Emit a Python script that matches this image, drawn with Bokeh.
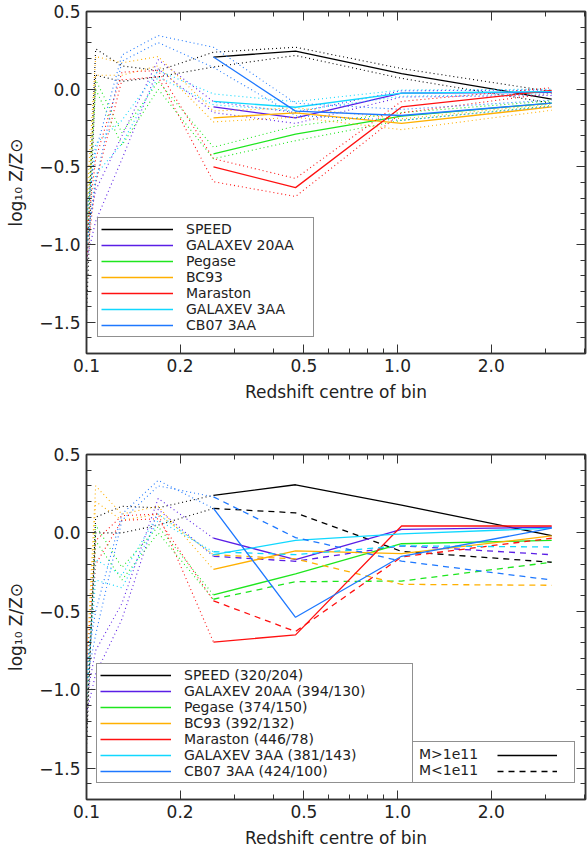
from bokeh.plotting import figure
from bokeh.models import (FixedTicker, CustomJSTickFormatter, LogAxis, LinearAxis,
                          Legend, LegendItem, Range1d)
from bokeh.layouts import column
from bokeh.embed import file_html
from bokeh.resources import INLINE

# ---------------- data ----------------
models = ["SPEED", "GALAXEV 20AA", "Pegase", "BC93", "Maraston", "GALAXEV 3AA", "CB07 3AA"]
counts = ["(320/204)", "(394/130)", "(374/150)", "(392/132)", "(446/78)", "(381/143)", "(424/100)"]
colors = ["#000000", "#5a1ee6", "#1ee61e", "#ffb000", "#ff1010", "#10d8ff", "#1e78ff"]

z_bins = [0.1, 0.107, 0.13, 0.17, 0.256, 0.47, 1.03, 3.13]

# top panel: central value (bins from z=0.256 on) and upper / lower envelopes
top_mid = [
    [0.207, 0.245, 0.101, -0.063],
    [-0.114, -0.184, -0.025, -0.020],
    [-0.416, -0.289, -0.173, -0.089],
    [-0.184, -0.152, -0.220, -0.114],
    [-0.500, -0.633, -0.114, -0.008],
    [-0.078, -0.116, -0.025, -0.015],
    [0.207, -0.141, -0.169, -0.089],
]
top_upper = [
    [-1.20, 0.26, 0.15, 0.12, 0.238, 0.270, 0.133, -0.015],
    [-0.95, -0.65, -0.30, 0.19, -0.080, -0.150, -0.010, -0.005],
    [-0.90, 0.06, -0.28, 0.05, -0.373, -0.236, -0.150, -0.075],
    [-0.75, 0.21, 0.17, 0.21, -0.140, -0.120, -0.190, -0.095],
    [-0.95, -0.45, 0.11, 0.12, -0.447, -0.574, -0.078, 0.010],
    [-0.85, -0.35, -0.20, 0.12, -0.030, -0.080, -0.005, 0.000],
    [-0.80, -0.40, 0.22, 0.345, 0.270, -0.090, -0.130, -0.070],
]
top_lower = [
    [-1.45, 0.09, 0.05, 0.08, 0.143, 0.217, 0.070, -0.090],
    [-1.10, -0.85, -0.45, 0.13, -0.150, -0.220, -0.050, -0.040],
    [-1.05, 0.00, -0.36, 0.00, -0.447, -0.331, -0.200, -0.105],
    [-0.95, 0.09, 0.09, 0.15, -0.210, -0.180, -0.260, -0.135],
    [-1.10, -0.60, 0.06, 0.08, -0.595, -0.690, -0.152, -0.025],
    [-1.05, -0.55, -0.35, 0.08, -0.100, -0.140, -0.045, -0.030],
    [-1.00, -0.60, 0.18, 0.30, 0.140, -0.170, -0.200, -0.110],
]

# bottom panel: M>1e11 (solid) and M<1e11 (dashed); dotted below z=0.256
bot_hi = [
    [-1.37, 0.10, 0.17, 0.16, 0.240, 0.307, 0.177, -0.017],
    [-1.05, -0.75, -0.45, 0.22, -0.034, -0.170, 0.023, 0.036],
    [-0.95, 0.05, -0.22, 0.04, -0.395, -0.261, -0.069, -0.048],
    [-0.85, 0.30, 0.12, 0.17, -0.233, -0.114, -0.132, -0.019],
    [-0.90, -0.05, 0.11, 0.12, -0.696, -0.650, 0.044, 0.044],
    [-0.95, -0.17, -0.27, 0.12, -0.139, -0.048, -0.006, 0.030],
    [-0.85, -0.50, 0.12, 0.335, 0.156, -0.538, -0.149, 0.030],
]
bot_lo = [
    [-1.25, 0.00, 0.00, 0.05, 0.156, 0.128, -0.118, -0.187],
    [-1.15, -0.90, -0.55, 0.15, -0.149, -0.181, -0.082, -0.139],
    [-1.10, -0.05, -0.30, 0.00, -0.423, -0.311, -0.307, -0.187],
    [-0.95, 0.20, 0.08, 0.12, -0.139, -0.166, -0.328, -0.334],
    [-1.00, -0.20, 0.08, 0.09, -0.433, -0.629, -0.153, -0.034],
    [-1.05, -0.30, -0.35, 0.08, -0.120, -0.139, -0.082, -0.090],
    [-0.95, -0.65, 0.08, 0.30, 0.230, -0.030, -0.180, -0.300],
]

x_ticks = [0.1, 0.2, 0.5, 1.0, 2.0]
x_minor = [0.3, 0.4, 0.6, 0.7, 0.8, 0.9, 3.0, 4.0]
y_ticks = [-1.5, -1.0, -0.5, 0.0, 0.5]
y_minor = [-1.7, -1.6, -1.4, -1.3, -1.2, -1.1, -0.9, -0.8, -0.7, -0.6,
           -0.4, -0.3, -0.2, -0.1, 0.1, 0.2, 0.3, 0.4]

FONT = "DejaVu Sans"
AX = "#333333"
TXT = "#222222"
DOT = "1 3"
DASH = "6 5"


def style_axis(ax, labels=True):
    ax.axis_line_color = AX
    ax.axis_line_width = 1.5
    ax.major_tick_line_color = AX
    ax.minor_tick_line_color = AX
    ax.major_tick_in = 9
    ax.major_tick_out = 0
    ax.minor_tick_in = 5
    ax.minor_tick_out = 0
    ax.major_label_text_font = FONT
    ax.major_label_text_font_size = "17px"
    ax.major_label_text_color = TXT
    ax.axis_label_text_font = FONT
    ax.axis_label_text_font_size = "17px"
    ax.axis_label_text_font_style = "normal"
    ax.axis_label_text_color = TXT
    if not labels:
        ax.formatter = CustomJSTickFormatter(code="return '';")
        ax.major_label_text_font_size = "0px"
        ax.major_label_standoff = 0


def make_fig(height, top_border, bottom_border):
    p = figure(width=587, height=height, x_axis_type="log",
               x_range=Range1d(0.1, 4.02), y_range=Range1d(-1.7, 0.5),
               output_backend="svg", toolbar_location=None,
               min_border_left=86, min_border_right=2,
               min_border_top=top_border, min_border_bottom=bottom_border)
    p.xgrid.visible = False
    p.ygrid.visible = False
    p.outline_line_color = AX
    p.outline_line_width = 1.5
    p.background_fill_color = "white"
    p.border_fill_color = "white"

    xa = p.xaxis[0]
    xa.ticker = FixedTicker(ticks=x_ticks, minor_ticks=x_minor)
    xa.formatter = CustomJSTickFormatter(code="return tick.toFixed(1);")
    xa.axis_label = "Redshift centre of bin"
    style_axis(xa)
    xa.major_label_standoff = 5
    xa.axis_label_standoff = 7

    ya = p.yaxis[0]
    ya.ticker = FixedTicker(ticks=y_ticks, minor_ticks=y_minor)
    ya.formatter = CustomJSTickFormatter(
        code="return (tick < -1e-9 ? '\u2212' : '') + Math.abs(tick).toFixed(1);")
    ya.axis_label = "log\u2081\u2080 Z/Z\u2299"
    style_axis(ya)
    ya.major_label_standoff = 6
    ya.axis_label_standoff = 10

    top = LogAxis(ticker=FixedTicker(ticks=x_ticks, minor_ticks=x_minor))
    style_axis(top, labels=False)
    p.add_layout(top, "above")
    right = LinearAxis(ticker=FixedTicker(ticks=y_ticks, minor_ticks=y_minor))
    style_axis(right, labels=False)
    p.add_layout(right, "right")
    return p


def style_legend(lg, padding, label_width):
    lg.label_text_font = FONT
    lg.label_text_font_size = "14px"
    lg.label_text_color = TXT
    lg.border_line_color = "#222222"
    lg.border_line_width = 1.2
    lg.background_fill_color = "white"
    lg.background_fill_alpha = 1.0
    lg.margin = 0
    lg.spacing = 0
    lg.padding = padding
    lg.label_height = 12
    lg.glyph_height = 12
    lg.label_width = label_width


# ---------------- top panel ----------------
p1 = make_fig(440, 11, 87)
items1 = []
for i, m in enumerate(models):
    c = colors[i]
    p1.line(z_bins, top_upper[i], line_color=c, line_width=1.1, line_dash=DOT)
    p1.line(z_bins, top_lower[i], line_color=c, line_width=1.1, line_dash=DOT)
    r = p1.line(z_bins[4:], top_mid[i], line_color=c, line_width=1.3)
    items1.append(LegendItem(label=m, renderers=[r]))

lg1 = Legend(items=items1, location=(11, 16), glyph_width=72, label_standoff=13)
style_legend(lg1, 3, 124)
p1.add_layout(lg1)

# ---------------- bottom panel ----------------
p2 = make_fig(410, 14, 49)
items2 = []
mass_hi = None
mass_lo = None
for i, m in enumerate(models):
    c = colors[i]
    p2.line(z_bins[:5], bot_hi[i][:5], line_color=c, line_width=1.1, line_dash=DOT)
    p2.line(z_bins[:5], bot_lo[i][:5], line_color=c, line_width=1.1, line_dash=DOT)
    rh = p2.line(z_bins[4:], bot_hi[i][4:], line_color=c, line_width=1.3)
    rl = p2.line(z_bins[4:], bot_lo[i][4:], line_color=c, line_width=1.3, line_dash=DASH)
    items2.append(LegendItem(label=m + " " + counts[i], renderers=[rh]))
    if i == 0:
        mass_hi, mass_lo = rh, rl

lg2 = Legend(items=items2, location=(10, 16), glyph_width=71, label_standoff=13)
style_legend(lg2, 3, 225)
p2.add_layout(lg2)

lg3 = Legend(items=[LegendItem(label="M>1e11", renderers=[mass_hi]),
                    LegendItem(label="M<1e11", renderers=[mass_lo])],
             location=(326, 16), glyph_width=0, label_standoff=2)
style_legend(lg3, 4, 151)
p2.add_layout(lg3)

lg4 = Legend(items=[LegendItem(label="\u00a0", renderers=[mass_hi]),
                    LegendItem(label="\u00a0", renderers=[mass_lo])],
             location=(407, 16), glyph_width=60, label_standoff=0)
style_legend(lg4, 4, 4)
lg4.border_line_alpha = 0
lg4.background_fill_alpha = 0
p2.add_layout(lg4)

layout = column(p1, p2, spacing=0)
open("out.html", "w").write(file_html(layout, INLINE))
